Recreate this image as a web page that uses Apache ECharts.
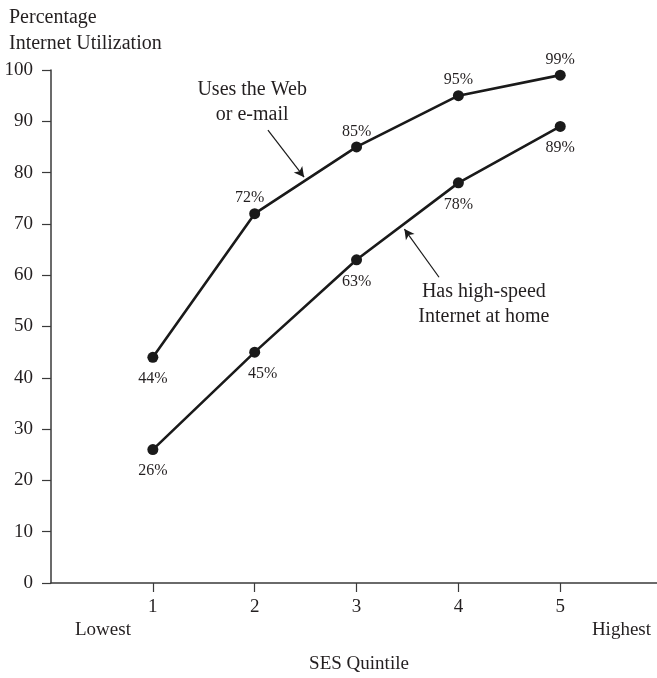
<!DOCTYPE html>
<html>
<head>
<meta charset="utf-8">
<script src="https://cdn.jsdelivr.net/npm/echarts@6/dist/echarts.min.js"></script>
<style>
  html, body { margin: 0; padding: 0; background: #fff; }
  #chart { width: 657px; height: 678px; }
</style>
</head>
<body>
<div id="chart"></div>
<script>
// SES quintiles and the two internet-use series (percent)
const quintiles = [1, 2, 3, 4, 5];
const usesWebOrEmail = [44, 72, 85, 95, 99];
const highSpeedAtHome = [26, 45, 63, 78, 89];
const yTicks = [0, 10, 20, 30, 40, 50, 60, 70, 80, 90, 100];

// where each value label sits relative to its point
const webLabelPos = ['bottom', 'top', 'top', 'top', 'top'];
const homeLabelPos = ['bottom', 'bottom', 'bottom', 'bottom', 'bottom'];

const FONT = '"Liberation Serif", "DejaVu Serif", serif';
const INK = '#231f20';

// small sideways nudges so labels clear the connecting lines
const webLabelNudge = [0, -5, 0, 0, 0];
const homeLabelNudge = [0, 8, 0, 0, 0];

function pairs(ys, positions, nudges) {
  return quintiles.map((q, i) => ({
    value: [q, ys[i]],
    label: {
      position: positions[i],
      distance: positions[i] === 'top' ? 2 : 8,
      offset: [nudges[i], 0]
    }
  }));
}

function pointerLine(from, to) {
  return {
    silent: true,
    symbol: ['none', 'arrow'],
    symbolSize: [8, 10],
    lineStyle: { color: '#1a1a1a', width: 1.2, type: 'solid' },
    label: { show: false },
    emphasis: { disabled: true },
    data: [[{ coord: from }, { coord: to }]]
  };
}

function callout(at, text) {
  return {
    silent: true, symbol: 'rect', symbolSize: 1,
    itemStyle: { color: 'rgba(0,0,0,0)' },
    label: {
      show: true, position: 'inside', formatter: text,
      fontFamily: FONT, fontSize: 20, color: INK, lineHeight: 25,
      align: 'center', verticalAlign: 'middle'
    },
    data: [{ coord: at, value: 0 }]
  };
}

const chart = echarts.init(document.getElementById('chart'), null, { renderer: 'canvas' });

chart.setOption({
  animation: false,
  backgroundColor: '#fff',
  textStyle: { fontFamily: FONT, color: INK },
  grid: { left: 51, right: 0, top: 70, bottom: 95, containLabel: false },
  title: [
    {
      text: 'Percentage\nInternet Utilization',
      left: 4, top: 0,
      textStyle: { fontFamily: FONT, fontSize: 20, fontWeight: 'normal', color: INK, lineHeight: 26 }
    },
    {
      text: 'SES Quintile',
      left: 354, top: 650, textAlign: 'center',
      textStyle: { fontFamily: FONT, fontSize: 19, fontWeight: 'normal', color: INK }
    }
  ],
  graphic: [
    { type: 'text', left: 75, top: 621, style: { text: 'Lowest', font: '19px ' + FONT, fill: INK } },
    { type: 'text', right: 6, top: 621, style: { text: 'Highest', font: '19px ' + FONT, fill: INK } }
  ],
  xAxis: {
    type: 'value',
    min: 0, max: 5.95, interval: 1,
    axisLine: { show: true, lineStyle: { color: '#3a3a3a', width: 1.5 } },
    axisTick: { show: true, length: 9, customValues: quintiles, lineStyle: { color: '#3a3a3a', width: 1.2 } },
    axisLabel: { customValues: quintiles, fontFamily: FONT, fontSize: 19, color: INK, margin: 15 },
    splitLine: { show: false }
  },
  yAxis: {
    type: 'value',
    min: 0, max: 100, interval: 10,
    axisLine: { show: true, lineStyle: { color: '#3a3a3a', width: 1.5 } },
    axisTick: { show: true, length: 9, customValues: yTicks, lineStyle: { color: '#3a3a3a', width: 1.2 } },
    axisLabel: { customValues: yTicks, fontFamily: FONT, fontSize: 19, color: INK, margin: 18 },
    splitLine: { show: false }
  },
  series: [
    {
      name: 'Uses the Web or e-mail',
      type: 'line',
      data: pairs(usesWebOrEmail, webLabelPos, webLabelNudge),
      symbol: 'circle', symbolSize: 11,
      itemStyle: { color: '#1a1a1a' },
      lineStyle: { color: '#1a1a1a', width: 2.6 },
      label: { show: true, formatter: p => p.value[1] + '%', fontFamily: FONT, fontSize: 16, color: INK },
      markLine: pointerLine([2.13, 88.3], [2.485, 79.1]),
      markPoint: callout([1.975, 93.7], 'Uses the Web\nor e-mail')
    },
    {
      name: 'Has high-speed Internet at home',
      type: 'line',
      data: pairs(highSpeedAtHome, homeLabelPos, homeLabelNudge),
      symbol: 'circle', symbolSize: 11,
      itemStyle: { color: '#1a1a1a' },
      lineStyle: { color: '#1a1a1a', width: 2.6 },
      label: { show: true, formatter: p => p.value[1] + '%', fontFamily: FONT, fontSize: 16, color: INK },
      markLine: pointerLine([3.81, 59.6], [3.47, 69.0]),
      markPoint: callout([4.25, 54.3], 'Has high-speed\nInternet at home')
    }
  ]
});
</script>
</body>
</html>
